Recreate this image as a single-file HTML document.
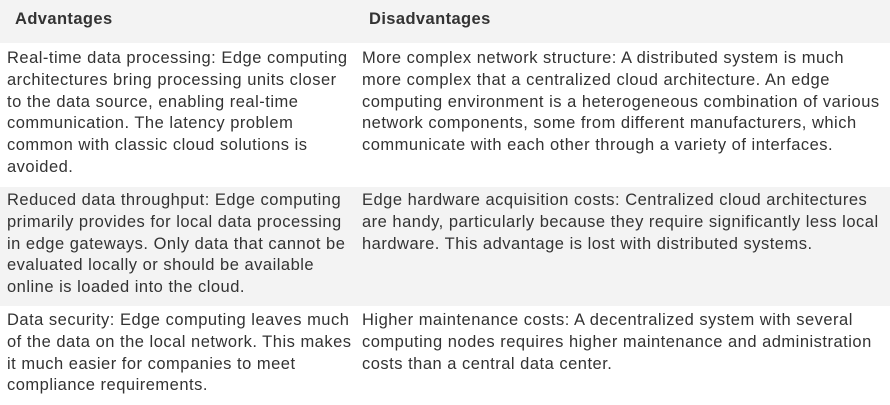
<!DOCTYPE html>
<html><head><meta charset="utf-8"><style>
body{margin:0;width:890px;height:405px;background:#fff;font-family:"Liberation Sans",sans-serif;color:#333;overflow:hidden;position:relative}
.bg{position:absolute;left:0;width:890px;background:#f3f3f3}
.t{position:absolute;font-size:16.5px;letter-spacing:0.5px;line-height:21.8px;white-space:nowrap}
.h{position:absolute;font-size:16.5px;letter-spacing:0.4px;font-weight:bold;top:10px;color:#333}
</style></head><body>
<div class="bg" style="top:0;height:43px"></div>
<div class="bg" style="top:187px;height:119px"></div>
<div class="h" style="left:15px">Advantages</div>
<div class="h" style="left:369px">Disadvantages</div>
<div class="t" style="left:7px;top:48px">Real-time data processing: Edge computing<br>architectures bring processing units closer<br>to the data source, enabling real-time<br>communication. The latency problem<br>common with classic cloud solutions is<br>avoided.</div>
<div class="t" style="left:362px;top:48px">More complex network structure: A distributed system is much<br>more complex that a centralized cloud architecture. An edge<br>computing environment is a heterogeneous combination of various<br>network components, some from different manufacturers, which<br>communicate with each other through a variety of interfaces.</div>
<div class="t" style="left:7px;top:190px">Reduced data throughput: Edge computing<br>primarily provides for local data processing<br>in edge gateways. Only data that cannot be<br>evaluated locally or should be available<br>online is loaded into the cloud.</div>
<div class="t" style="left:362px;top:190px">Edge hardware acquisition costs: Centralized cloud architectures<br>are handy, particularly because they require significantly less local<br>hardware. This advantage is lost with distributed systems.</div>
<div class="t" style="left:7px;top:310px">Data security: Edge computing leaves much<br>of the data on the local network. This makes<br>it much easier for companies to meet<br>compliance requirements.</div>
<div class="t" style="left:362px;top:310px">Higher maintenance costs: A decentralized system with several<br>computing nodes requires higher maintenance and administration<br>costs than a central data center.</div>
</body></html>
